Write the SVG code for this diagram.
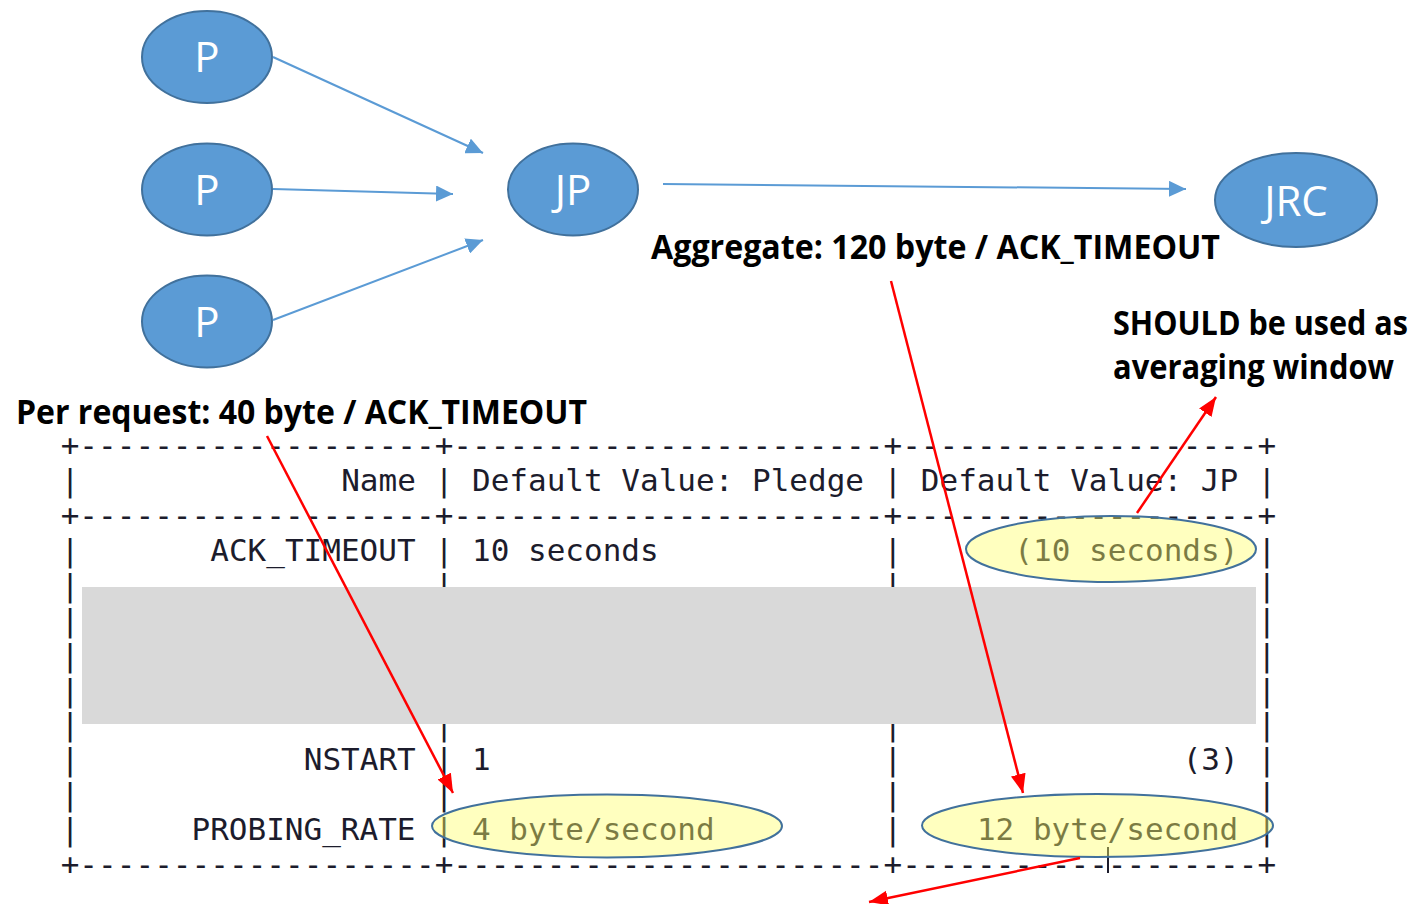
<svg xmlns="http://www.w3.org/2000/svg" width="1416" height="904" viewBox="0 0 1416 904">
<style>
.node{fill:#5B9BD5;stroke:#41719C;stroke-width:2}
.nlbl{font-family:"Open Sans","Noto Sans",sans-serif;font-size:42px;fill:#ffffff;text-anchor:middle}
.blue{stroke:#5B9BD5;stroke-width:2;fill:none}
.red{stroke:#FF0000;stroke-width:2.5;fill:none}
.lbl{font-family:"Open Sans","Noto Sans",sans-serif;font-weight:700;font-size:34px;fill:#000000}
.mono{font-family:"DejaVu Sans Mono","Liberation Mono",monospace;font-size:31px;fill:#1c1c2c;white-space:pre}
.hl{fill:#FFFF66;fill-opacity:0.42;stroke:#41719C;stroke-width:2}
</style>
<defs>
<marker id="ab" markerUnits="userSpaceOnUse" markerWidth="18" markerHeight="16" refX="17" refY="8" orient="auto"><path d="M0,0 L17,8 L0,16 z" fill="#5B9BD5"/></marker>
<marker id="ar" markerUnits="userSpaceOnUse" markerWidth="20" markerHeight="16" refX="19" refY="7.5" orient="auto"><path d="M0,0 L19,7.5 L0,15 z" fill="#FF0000"/></marker>
</defs>
<rect width="1416" height="904" fill="#ffffff"/>

<g id="p1"><ellipse class="node" cx="207" cy="57" rx="65" ry="46"/><text class="nlbl" x="207" y="72">P</text></g>
<g id="p2"><ellipse class="node" cx="207" cy="189.5" rx="65" ry="46"/><text class="nlbl" x="207" y="204.5">P</text></g>
<g id="p3"><ellipse class="node" cx="207" cy="321.5" rx="65" ry="46"/><text class="nlbl" x="207" y="336.5">P</text></g>
<g id="jp"><ellipse class="node" cx="573" cy="189.5" rx="65" ry="46"/><text class="nlbl" x="573" y="204.5">JP</text></g>
<g id="jrc"><ellipse class="node" cx="1296" cy="200" rx="81" ry="47"/><text class="nlbl" x="1296" y="216">JRC</text></g>

<g id="labels">
<text class="lbl" x="651" y="259" textLength="569" lengthAdjust="spacingAndGlyphs">Aggregate: 120 byte / ACK_TIMEOUT</text>
<text class="lbl" x="16" y="424" textLength="571" lengthAdjust="spacingAndGlyphs">Per request: 40 byte / ACK_TIMEOUT</text>
<text class="lbl" x="1113" y="335" textLength="295" lengthAdjust="spacingAndGlyphs">SHOULD be used as</text>
<text class="lbl" x="1113" y="379" textLength="281" lengthAdjust="spacingAndGlyphs">averaging window</text>
</g>

<g id="table">
<text class="mono" x="60.65" y="456">+</text><text class="mono" x="79.35" y="456" textLength="355.3" lengthAdjust="spacing">-------------------</text>
<text class="mono" x="434.65" y="456">+</text><text class="mono" x="453.35" y="456" textLength="430.1" lengthAdjust="spacing">-----------------------</text>
<text class="mono" x="883.45" y="456">+</text><text class="mono" x="902.15" y="456" textLength="355.3" lengthAdjust="spacing">-------------------</text>
<text class="mono" x="1257.45" y="456">+</text>
<text class="mono" y="491"><tspan x="60.65">|</tspan><tspan x="341.15">Name</tspan><tspan x="434.65">|</tspan><tspan x="472.05">Default Value: Pledge</tspan><tspan x="883.45">|</tspan><tspan x="920.85">Default Value: JP</tspan><tspan x="1257.45">|</tspan></text>
<text class="mono" x="60.65" y="526">+</text><text class="mono" x="79.35" y="526" textLength="355.3" lengthAdjust="spacing">-------------------</text>
<text class="mono" x="434.65" y="526">+</text><text class="mono" x="453.35" y="526" textLength="430.1" lengthAdjust="spacing">-----------------------</text>
<text class="mono" x="883.45" y="526">+</text><text class="mono" x="902.15" y="526" textLength="355.3" lengthAdjust="spacing">-------------------</text>
<text class="mono" x="1257.45" y="526">+</text>
<text class="mono" y="561"><tspan x="60.65">|</tspan><tspan x="210.25">ACK_TIMEOUT</tspan><tspan x="434.65">|</tspan><tspan x="472.05">10 seconds</tspan><tspan x="883.45">|</tspan><tspan x="1014.35">(10 seconds)</tspan><tspan x="1257.45">|</tspan></text>
<text class="mono" y="596"><tspan x="60.65">|</tspan><tspan x="434.65">|</tspan><tspan x="883.45">|</tspan><tspan x="1257.45">|</tspan></text>
<text class="mono" y="631"><tspan x="60.65">|</tspan><tspan x="1257.45">|</tspan></text>
<text class="mono" y="666"><tspan x="60.65">|</tspan><tspan x="1257.45">|</tspan></text>
<text class="mono" y="701"><tspan x="60.65">|</tspan><tspan x="1257.45">|</tspan></text>
<text class="mono" y="735"><tspan x="60.65">|</tspan><tspan x="434.65">|</tspan><tspan x="883.45">|</tspan><tspan x="1257.45">|</tspan></text>
<text class="mono" y="770"><tspan x="60.65">|</tspan><tspan x="303.75">NSTART</tspan><tspan x="434.65">|</tspan><tspan x="472.05">1</tspan><tspan x="883.45">|</tspan><tspan x="1182.65">(3)</tspan><tspan x="1257.45">|</tspan></text>
<text class="mono" y="805"><tspan x="60.65">|</tspan><tspan x="434.65">|</tspan><tspan x="883.45">|</tspan><tspan x="1257.45">|</tspan></text>
<text class="mono" y="840"><tspan x="60.65">|</tspan><tspan x="191.55">PROBING_RATE</tspan><tspan x="434.65">|</tspan><tspan x="472.05">4 byte/second</tspan><tspan x="883.45">|</tspan><tspan x="976.95">12 byte/second</tspan><tspan x="1257.45">|</tspan></text>
<text class="mono" x="60.65" y="875">+</text><text class="mono" x="79.35" y="875" textLength="355.3" lengthAdjust="spacing">-------------------</text>
<text class="mono" x="434.65" y="875">+</text><text class="mono" x="453.35" y="875" textLength="430.1" lengthAdjust="spacing">-----------------------</text>
<text class="mono" x="883.45" y="875">+</text><text class="mono" x="902.15" y="875" textLength="355.3" lengthAdjust="spacing">-------------------</text>
<text class="mono" x="1257.45" y="875">+</text>
<line x1="1108" y1="847" x2="1108" y2="873" stroke="#1c1c2c" stroke-width="2"/>
</g>

<rect id="gray" x="82" y="587" width="1174" height="137" fill="#D9D9D9"/>

<g id="highlights">
<ellipse class="hl" cx="1111" cy="549" rx="145" ry="33"/>
<ellipse class="hl" cx="607" cy="826" rx="175" ry="31.5"/>
<ellipse class="hl" cx="1097.5" cy="825.5" rx="175.5" ry="31.5"/>
</g>

<g id="connectors">
<line class="blue" x1="273" y1="57" x2="483" y2="153" marker-end="url(#ab)"/>
<line class="blue" x1="273" y1="189" x2="453" y2="194" marker-end="url(#ab)"/>
<line class="blue" x1="273" y1="320" x2="483" y2="240" marker-end="url(#ab)"/>
<line class="blue" x1="663" y1="184" x2="1186" y2="189" marker-end="url(#ab)"/>
<line class="red" x1="267" y1="436" x2="453" y2="793" marker-end="url(#ar)"/>
<line class="red" x1="891" y1="281" x2="1023" y2="793" marker-end="url(#ar)"/>
<line class="red" x1="1137" y1="513" x2="1216" y2="397" marker-end="url(#ar)"/>
<line class="red" x1="1080" y1="858" x2="869" y2="902" marker-end="url(#ar)"/>
</g>
</svg>
